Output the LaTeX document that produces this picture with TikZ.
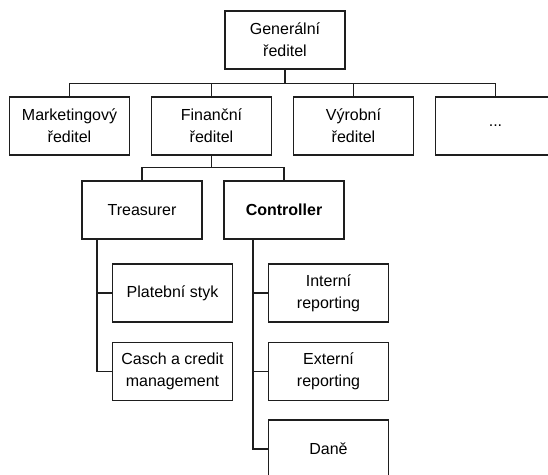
\documentclass[tikz,border=0pt]{standalone}
\usepackage{fontspec}
\setmainfont{Liberation Sans}
\usetikzlibrary{positioning,calc}
\definecolor{orgline}{RGB}{30,30,30}
\tikzset{
  orgbox/.style={draw=orgline,line width=1.1pt,minimum width=120pt,minimum height=58pt,
    inner sep=0pt,align=center,font=\fontsize{16}{22}\selectfont},
  orglink/.style={draw=orgline,line width=1.1pt}
}

\begin{document}
\begin{tikzpicture}[x=1pt,y=-1pt]
  \useasboundingbox (0,0) rectangle (548,474);
  \clip (0,0) rectangle (548,474);
  % --- top ---
  \node[orgbox] (gen) at (285,40) {Generální\\ředitel};
  % --- directors, 142 apart ---
  \foreach \nx/\nm/\lab in {0/mkt/{Marketingový\\ředitel}, 1/fin/{Finanční\\ředitel},
        2/vyr/{Výrobní\\ředitel}, 3/dalsi/{...}}{%
    \node[orgbox] (\nm) at (69.5+\nx*142,126) {\lab};
    \draw[orglink] (gen.south) -- ++(0,14) -| (\nm.north);}
  % --- finance ---
  \node[orgbox] (trs) at (142,210) {Treasurer};
  \node[orgbox,font=\fontsize{16}{22}\selectfont\bfseries] (ctl) at (284,210) {Controller};
  \foreach \nm in {trs,ctl}
    \draw[orglink] (fin.south) -- ++(0,12) -| (\nm.north);
  % --- treasurer ---
  \node[orgbox] (plat) at (172.5,293) {Platební styk};
  \node[orgbox] (cash) at (172.5,371.5) {Casch a credit\\management};
  \coordinate (trsspine) at ($(plat.west)+(-15,0)$);
  \foreach \nm in {plat,cash}
    \draw[orglink] (trsspine |- trs.south) |- (\nm.west);
  % --- controller ---
  \node[orgbox] (int) at (328.5,293) {Interní\\reporting};
  \node[orgbox] (ext) at (328.5,371.5) {Externí\\reporting};
  \node[orgbox] (dane) at (328.5,449) {Daně};
  \coordinate (ctlspine) at ($(int.west)+(-15,0)$);
  \foreach \nm in {int,ext,dane}
    \draw[orglink] (ctlspine |- ctl.south) |- (\nm.west);
\end{tikzpicture}
\end{document}
